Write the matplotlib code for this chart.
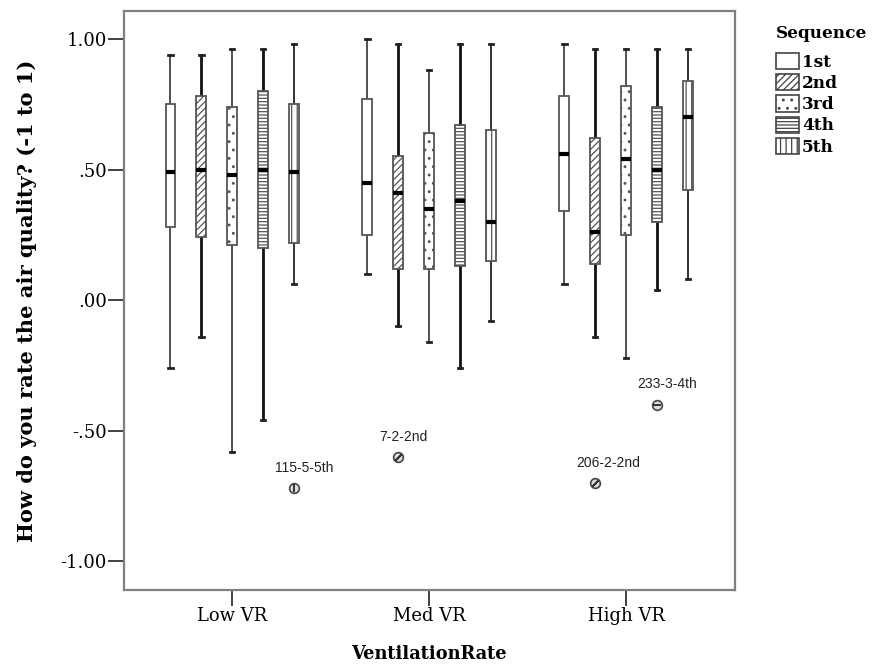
import numpy as np
import matplotlib.pyplot as plt
from matplotlib.patches import Patch

groups = ["Low VR", "Med VR", "High VR"]
sequences = ["1st", "2nd", "3rd", "4th", "5th"]

# five-number summaries, one row per ventilation rate, one column per sequence
whisk_hi = [[0.94, 0.94, 0.96, 0.96, 0.98],
            [1.00, 0.98, 0.88, 0.98, 0.98],
            [0.98, 0.96, 0.96, 0.96, 0.96]]
q3 = [[0.75, 0.78, 0.74, 0.80, 0.75],
      [0.77, 0.55, 0.64, 0.67, 0.65],
      [0.78, 0.62, 0.82, 0.74, 0.84]]
med = [[0.49, 0.50, 0.48, 0.50, 0.49],
       [0.45, 0.41, 0.35, 0.38, 0.30],
       [0.56, 0.26, 0.54, 0.50, 0.70]]
q1 = [[0.28, 0.24, 0.21, 0.20, 0.22],
      [0.25, 0.12, 0.12, 0.13, 0.15],
      [0.34, 0.14, 0.25, 0.30, 0.42]]
whisk_lo = [[-0.26, -0.14, -0.58, -0.46, 0.06],
            [0.10, -0.10, -0.16, -0.26, -0.08],
            [0.06, -0.14, -0.22, 0.04, 0.08]]

# outliers: group index, sequence index, value, case label
out_group = [0, 1, 2, 2]
out_seq = [4, 1, 1, 3]
out_val = [-0.72, -0.60, -0.70, -0.40]
out_label = ["115-5-5th", "7-2-2nd", "206-2-2nd", "233-3-4th"]

yticks = [1.0, 0.5, 0.0, -0.5, -1.0]
ytick_labels = ["1.00", ".50", ".00", "-.50", "-1.00"]

hatches = ["", "/////", "..", "-----", "|||"]
whisker_w = [1.2, 2.0, 1.2, 2.0, 1.4]
whisker_c = ["#333333", "#111111", "#333333", "#111111", "#333333"]
out_marker = {1: (2, 2, -45), 3: "_", 4: "|", 0: None, 2: None}

step = 0.157
bw = 0.05

plt.rcParams["hatch.linewidth"] = 0.9
fig = plt.figure(figsize=(8.75, 6.67), dpi=100)
ax = fig.add_axes([124 / 875, 1 - 590 / 667, (734.5 - 124) / 875, (590 - 11) / 667])

for s in range(len(sequences)):
    stats = []
    pos = []
    for g in range(len(groups)):
        stats.append(dict(whislo=whisk_lo[g][s], q1=q1[g][s], med=med[g][s],
                          q3=q3[g][s], whishi=whisk_hi[g][s], fliers=[]))
        pos.append(g + (s - 2) * step)
    bp = ax.bxp(stats, positions=pos, widths=bw, patch_artist=True, showfliers=False,
                capwidths=0.022,
                boxprops=dict(facecolor="white", edgecolor="#555555", linewidth=1.3,
                              hatch=hatches[s]),
                medianprops=dict(color="black", linewidth=3, solid_capstyle="butt"),
                whiskerprops=dict(color=whisker_c[s], linewidth=whisker_w[s]),
                capprops=dict(color="#222222", linewidth=2))
    for b in bp["boxes"]:
        b.set_zorder(3)
    for m in bp["medians"]:
        m.set_zorder(4)

for g, s, v, lab in zip(out_group, out_seq, out_val, out_label):
    x = g + (s - 2) * step
    ax.plot(x, v, "o", ms=7, mfc="#dddddd", mec="#444444", mew=1.2, zorder=5)
    if out_marker[s] is not None:
        ax.plot(x, v, marker=out_marker[s], ms=6, mec="#333333", mew=1.4, ls="none", zorder=6)
    ax.annotate(lab, (x, v), xytext=(-14, 14.5), textcoords="offset points",
                ha="left", va="center", fontsize=10, family="Liberation Sans", color="#222222")

ax.set_xlim(-0.55, 2.55)
ax.set_ylim(-1.11, 1.107)
ax.set_xticks(range(len(groups)))
ax.set_xticklabels(groups, family="DejaVu Serif", fontsize=13)
ax.set_yticks(yticks)
ax.set_yticklabels(ytick_labels, family="DejaVu Serif", fontsize=13)
ax.tick_params(direction="out", length=11.5, width=1.3, color="#333333", pad=1)
for sp in ax.spines.values():
    sp.set_color("#808080")
    sp.set_linewidth(1.6)

ax.set_ylabel("How do you rate the air quality? (-1 to 1)", family="DejaVu Serif",
              fontweight="bold", fontsize=15.1, labelpad=17)
ax.set_xlabel("VentilationRate", family="DejaVu Serif", fontweight="bold",
              fontsize=12.8, labelpad=14)

handles = [Patch(facecolor="white", edgecolor="#444444", hatch=h, linewidth=1.2) for h in hatches]
leg = ax.legend(handles, sequences, title="Sequence", loc="upper left",
                bbox_to_anchor=(1.045, 1.0), frameon=False, handlelength=1.4,
                handleheight=1.1, handletextpad=0.15, labelspacing=0.2,
                borderpad=0.3,
                prop=dict(family="DejaVu Serif", weight="bold", size=12.2))
leg.get_title().set_fontproperties(dict(family="DejaVu Serif", weight="bold", size=12.2))
leg._legend_box.align = "left"
leg._legend_box.sep = 8

fig.savefig("out.png", dpi=100)
